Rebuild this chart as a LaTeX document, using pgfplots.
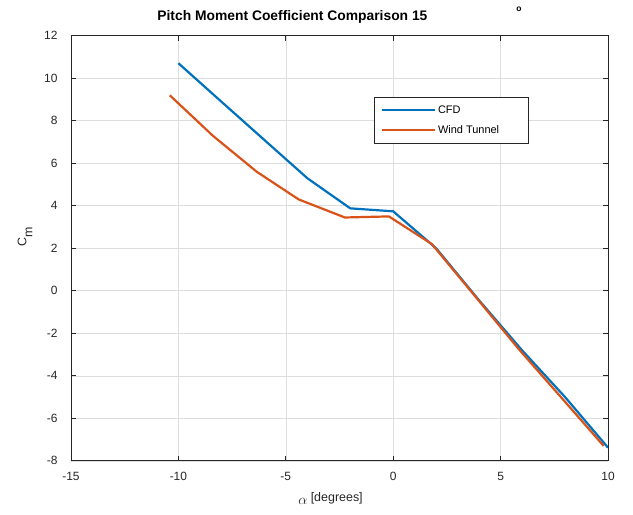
\documentclass[border=0pt]{standalone}
\usepackage{fontspec}
\setmainfont{Liberation Sans}
\usepackage{pgfplots}
\pgfplotsset{compat=1.18}
\definecolor{mblue}{rgb}{0,0.447,0.741}
\definecolor{mred}{rgb}{0.850,0.325,0.098}
\definecolor{axgray}{rgb}{0.15,0.15,0.15}
\begin{document}
\begin{tikzpicture}
\path[use as bounding box] (-71bp,-54bp) rectangle (562bp,460.8bp);
\begin{axis}[
  at={(0,0)}, anchor=south west,
  scale only axis, width=537bp, height=425bp,
  xmin=-15, xmax=10, ymin=-8, ymax=12,
  xtick={-15,-10,...,10}, ytick={-8,-6,...,12},
  grid=major, major grid style={draw=black!13, line width=0.6bp},
  axis line style={draw=axgray, line width=0.8bp},
  tick style={draw=axgray, line width=0.8bp},
  major tick length=5bp,
  tick align=inside,
  /pgf/number format/assume math mode=true,
  ticklabel style={font=\fontsize{12}{14}\selectfont, text=axgray},
  xticklabel style={yshift=-8bp},
  yticklabel style={xshift=-10bp},
  title={\textbf{Pitch Moment Coefficient Comparison 15}\hspace{89bp}\raisebox{9bp}{\fontsize{8.5}{9}\selectfont\textbf{o}}},
  title style={font=\fontsize{13.9}{16}\selectfont, at={(0.5,1)}, anchor=base, yshift=9bp},
  xlabel={\raisebox{-3bp}{\fontsize{15}{15}\selectfont$\alpha$} [degrees]},
  xlabel style={font=\fontsize{12.5}{14}\selectfont, at={(axis description cs:0.5,0)}, anchor=center, yshift=-38bp, xshift=-9bp, text=axgray},
  ylabel={C\raisebox{-6bp}{m}},
  ylabel style={font=\fontsize{12.5}{14}\selectfont, at={(axis description cs:-0.0857,0.528)}, anchor=center, text=axgray},
  legend style={at={(0.564,0.857)}, anchor=north west, draw=axgray, line width=0.6bp, fill=white,
    font=\fontsize{11}{13}\selectfont, inner xsep=7.2bp, inner ysep=7bp, row sep=7.6bp,
    nodes={inner sep=1.5bp}, cells={anchor=west}},
  legend image code/.code={\draw[#1, line width=2.2bp] (0bp,0bp) -- (53bp,0bp);},
]
\addplot[mblue, line width=2.2bp] coordinates {
  (-10,10.71) (-8,8.90) (-6,7.10) (-4,5.30) (-2,3.88) (0,3.74)
  (2,2.0) (4,-0.45) (6,-2.80) (8,-5.0) (10,-7.38)
};
\addlegendentry{\makebox[82bp][l]{CFD}}
\addplot[mred, line width=2.2bp] coordinates {
  (-10.4,9.2) (-8.4,7.3) (-6.35,5.6) (-4.4,4.3) (-2.25,3.45) (-0.2,3.5)
  (1.8,2.2) (3.85,-0.3) (5.85,-2.75) (7.85,-5.05) (9.8,-7.3)
};
\addlegendentry{\makebox[82bp][l]{Wind Tunnel}}
\end{axis}
\end{tikzpicture}
\end{document}
